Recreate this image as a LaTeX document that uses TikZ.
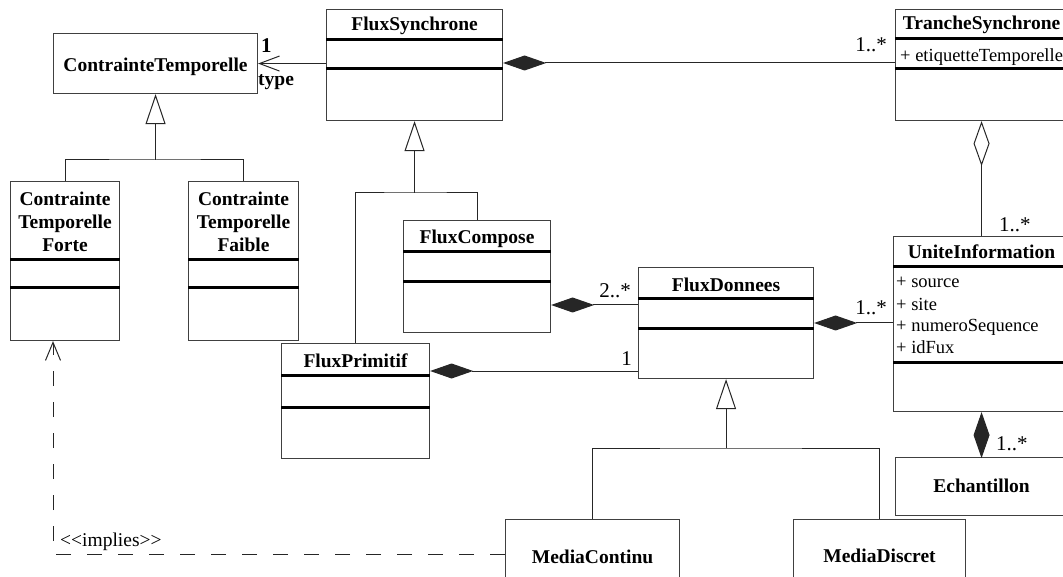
\documentclass[tikz,border=0pt]{standalone}
\usepackage{fontspec}
\setmainfont{Liberation Serif}
\usetikzlibrary{arrows.meta,calc}

\tikzset{
  cls/.style={draw=black!75, line width=1.1pt, fill=white, inner sep=0pt,
    anchor=north west, rectangle},
  ttl/.style={font=\fontsize{19.5}{23}\selectfont\bfseries, inner sep=0pt},
  attr/.style={font=\fontsize{18.5}{21}\selectfont, inner sep=0pt, anchor=base west},
  mult/.style={font=\fontsize{21}{24}\selectfont, inner sep=0pt},
  sep/.style={line width=3pt, black},
  conn/.style={line width=1pt, black!85},
  gen/.style={conn, -{Triangle[open, length=30pt, width=20pt]}},
  comp/.style={conn, {Diamond[length=43pt, width=15pt]}-},
  aggr/.style={conn, {Diamond[open, length=45pt, width=16pt]}-},
  dep/.style={conn, dash pattern=on 15pt off 16pt,
    -{Straight Barb[length=18pt, width=15pt]}},
  nav/.style={conn, -{Straight Barb[length=20pt, width=15pt]}}
}
% thick compartment separator, #2 = distance below the top edge
\newcommand\compsep[2]{\draw[sep] ([yshift=-#2pt]#1.north west) -- ([yshift=-#2pt]#1.north east);}

\begin{document}
\begin{tikzpicture}[x=1pt,y=-1pt]
\path[use as bounding box] (0,0) rectangle (1063,577);
\clip (0,0) rectangle (1063,577);

% ---------- classes ----------
\node[cls, minimum width=204pt, minimum height=60pt]  (ct)  at (53,33)   {};
\node[cls, minimum width=176pt, minimum height=111pt] (fs)  at (326,9)   {};
\node[cls, minimum width=172pt, minimum height=111pt] (ts)  at (895,9)   {};
\node[cls, minimum width=109pt, minimum height=159pt] (ctf) at (10,181)  {};
\node[cls, minimum width=110pt, minimum height=159pt] (ctb) at (188,181) {};
\node[cls, minimum width=147pt, minimum height=112pt] (fc)  at (403,220) {};
\node[cls, minimum width=148pt, minimum height=115pt] (fp)  at (281,343) {};
\node[cls, minimum width=175pt, minimum height=111pt] (fd)  at (638,267) {};
\node[cls, minimum width=176pt, minimum height=175pt] (ui)  at (893,236) {};
\node[cls, minimum width=172pt, minimum height=58pt]  (ech) at (895,457) {};
\node[cls, minimum width=174pt, minimum height=80pt]  (mc)  at (505,519) {};
\node[cls, minimum width=172pt, minimum height=80pt]  (md)  at (793,519) {};

% ---------- class names ----------
\node[ttl, anchor=base] (ctT)  at ([yshift=-39pt]ct.north)  {ContrainteTemporelle};
\node[ttl, anchor=base] (fsT)  at ([yshift=-22pt]fs.north)  {FluxSynchrone};
\node[ttl, anchor=base] (tsT)  at ([yshift=-21pt]ts.north)  {TrancheSynchrone};
\node[ttl, align=center] (ctfT) at ([yshift=-40.5pt]ctf.north) {Contrainte\\Temporelle\\Forte};
\node[ttl, align=center] (ctbT) at ([yshift=-40.5pt]ctb.north) {Contrainte\\Temporelle\\Faible};
\node[ttl, anchor=base] (fcT)  at ([yshift=-24pt]fc.north)  {FluxCompose};
\node[ttl, anchor=base] (fpT)  at ([yshift=-24pt]fp.north)  {FluxPrimitif};
\node[ttl, anchor=base] (fdT)  at ([yshift=-25pt]fd.north)  {FluxDonnees};
\node[ttl, anchor=base] (uiT)  at ([yshift=-23pt]ui.north)  {UniteInformation};
\node[ttl, anchor=base] (echT) at ([yshift=-35pt]ech.north) {Echantillon};
\node[ttl, anchor=base] (mcT)  at ([yshift=-44pt]mc.north)  {MediaContinu};
\node[ttl, anchor=base] (mdT)  at ([yshift=-43pt]md.north)  {MediaDiscret};

% ---------- compartments ----------
\compsep{fs}{31}  \compsep{fs}{60}
\compsep{ts}{30}  \compsep{ts}{60}
\compsep{ctf}{79} \compsep{ctf}{107}
\compsep{ctb}{79} \compsep{ctb}{107}
\compsep{fc}{32}  \compsep{fc}{62}
\compsep{fp}{32}  \compsep{fp}{64}
\compsep{fd}{32}  \compsep{fd}{62}
\compsep{ui}{31}  \compsep{ui}{126}

% ---------- attributes ----------
\node[attr] (tsA1) at ([xshift=5pt,yshift=-53pt]ts.north west) {+ etiquetteTemporelle};
\node[attr] (uiA1) at ([xshift=3pt,yshift=-52pt]ui.north west) {+ source};
\node[attr] (uiA2) at ([xshift=3pt,yshift=-75pt]ui.north west) {+ site};
\node[attr] (uiA3) at ([xshift=3pt,yshift=-95pt]ui.north west) {+ numeroSequence};
\node[attr] (uiA4) at ([xshift=3pt,yshift=-117pt]ui.north west) {+ idFux};

% ---------- generalisations ----------
\coordinate (g1) at (ct.south |- 0,160);
\draw[conn] (ctf.north) |- (g1) -| (ctb.north);
\draw[gen] (g1) -- (ct.south);

\coordinate (g2) at (fs.south |- 0,193);
\draw[conn] (fp.north) |- (g2) -| (fc.north);
\draw[gen] (g2) -- (fs.south);

\coordinate (g3) at (fd.south |- 0,448);
\draw[conn] (mc.north) |- (g3) -| (md.north);
\draw[gen] (g3) -- (fd.south);

% ---------- association with navigability ----------
\draw[nav] (ct.east -| fs.west) -- (ct.east);
\node[mult, font=\fontsize{21}{24}\selectfont\bfseries, anchor=base west] (m0) at (261,53) {1};
\node[ttl, anchor=base west] (typ) at (258,86) {type};

% ---------- compositions ----------
\coordinate (c1) at ([yshift=-54pt]fs.north east);
\draw[comp] (c1) -- (c1 -| ts.west);
\node[mult, anchor=base east] (m1) at (887,52) {1..*};

\coordinate (c2) at ([yshift=-85pt]fc.north east);
\draw[comp] (c2) -- (c2 -| fd.west);
\node[mult, anchor=base east] (m2) at (631,298) {2..*};

\coordinate (c3) at ([yshift=-28pt]fp.north east);
\draw[comp] (c3) -- (c3 -| fd.west);
\node[mult, anchor=base east] (m3) at (632,365) {1};

\coordinate (c4) at ([yshift=-56pt]fd.north east);
\draw[comp] (c4) -- (c4 -| ui.west);
\node[mult, anchor=base east] (m4) at (887,315) {1..*};

\draw[conn, {Diamond[length=46pt, width=16pt]}-] (ui.south) -- (ech.north);
\node[mult, anchor=base west] (m5) at (996,450) {1..*};

% ---------- aggregation ----------
\draw[aggr] (ts.south) -- (ui.north);
\node[mult, anchor=base west] (m6) at (999,232) {1..*};

% ---------- dependency ----------
\coordinate (d1) at ([xshift=43pt]ctf.south west);
\draw[dep] ([yshift=-35pt]mc.north west) -| (d1);
\node[font=\fontsize{19.5}{23}\selectfont, inner sep=0pt, anchor=base west] (impl)
  at (60,546) {\char"3C\kern0pt\char"3C implies\char"3E\kern0pt\char"3E};
\end{tikzpicture}
\end{document}
